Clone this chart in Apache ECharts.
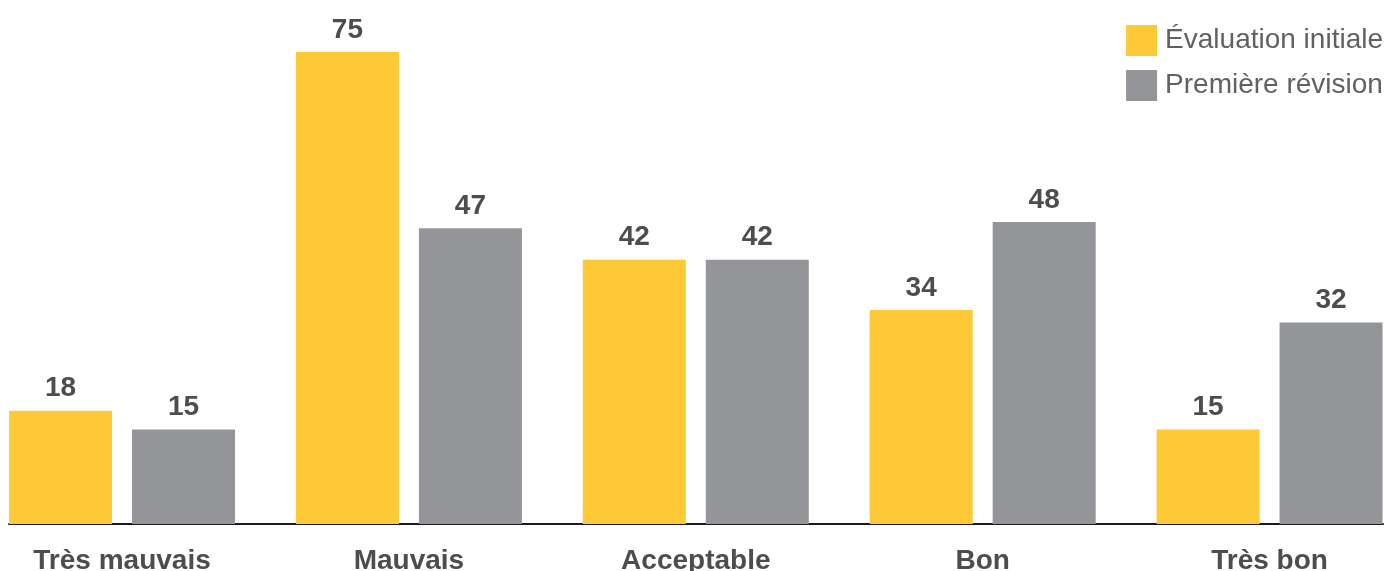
<!DOCTYPE html>
<html>
<head>
<meta charset="utf-8">
<script src="https://cdn.jsdelivr.net/npm/echarts@6/dist/echarts.min.js"></script>
<style>
html,body{margin:0;padding:0;background:#fff;}
#chart{width:1388px;height:571px;}
</style>
</head>
<body>
<div id="chart"></div>
<script>
const categories = ['Très mauvais', 'Mauvais', 'Acceptable', 'Bon', 'Très bon'];
const seriesNames = ['Évaluation initiale', 'Première révision'];
const initiale = [18, 75, 42, 34, 15];
const revision = [15, 47, 42, 48, 32];

const chart = echarts.init(document.getElementById('chart'), null, {renderer: 'canvas'});
const labelStyle = {
  show: true, position: 'top', distance: 8,
  fontFamily: 'Liberation Sans', fontWeight: 'bold', fontSize: 28, color: '#4d4d4f'
};
chart.setOption({
  animation: false,
  backgroundColor: '#ffffff',
  legend: {
    orient: 'vertical', right: 5, top: 25, padding: 0,
    itemWidth: 31, itemHeight: 31, itemGap: 14, icon: 'rect',
    textStyle: {fontFamily: 'Liberation Sans', fontSize: 28, color: '#606163', padding: [0, 0, 0, 3]},
    data: seriesNames
  },
  grid: [
    {left: -21.4, right: -25, top: 52, bottom: 47, outerBoundsMode: 'none', containLabel: false},
    {left: 9, right: 5, top: 52, bottom: 47, outerBoundsMode: 'none', containLabel: false}
  ],
  xAxis: [
    {
      type: 'category', gridIndex: 0, data: categories,
      axisLine: {show: false}, axisTick: {show: false},
      axisLabel: {margin: 23, fontFamily: 'Liberation Sans', fontWeight: 'bold', fontSize: 28, color: '#4d4d4f'}
    },
    {
      type: 'category', gridIndex: 1, data: categories,
      axisLine: {show: true, lineStyle: {color: '#1a1a1a', width: 2}},
      axisTick: {show: false}, axisLabel: {show: false}
    }
  ],
  yAxis: [
    {type: 'value', gridIndex: 0, min: 0, max: 75, show: false},
    {type: 'value', gridIndex: 1, min: 0, max: 75, show: false}
  ],
  series: [
    {
      name: seriesNames[0], type: 'bar', data: initiale, barWidth: 103, barGap: '19.4%',
      itemStyle: {color: '#fdc936'}, label: labelStyle
    },
    {
      name: seriesNames[1], type: 'bar', data: revision, barWidth: 103, barGap: '19.4%',
      itemStyle: {color: '#949598'}, label: labelStyle
    }
  ]
});
</script>
</body>
</html>
